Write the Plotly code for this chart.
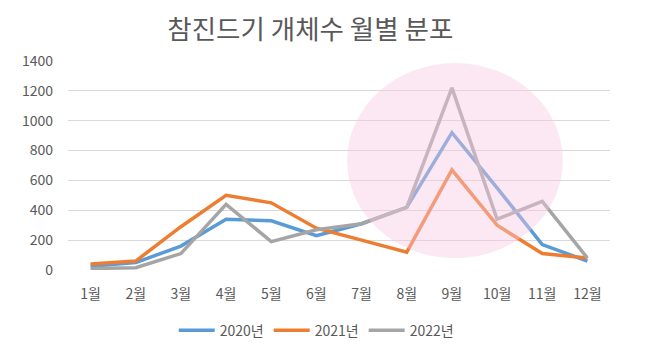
import plotly.graph_objects as go

months = ["1월", "2월", "3월", "4월", "5월", "6월", "7월", "8월", "9월", "10월", "11월", "12월"]
y2020 = [25, 50, 160, 340, 330, 230, 310, 420, 920, 550, 170, 60]
y2021 = [40, 60, 290, 500, 450, 280, 200, 120, 670, 300, 110, 80]
y2022 = [10, 15, 110, 440, 190, 270, 310, 420, 1220, 340, 460, 80]
names = ["2020년", "2021년", "2022년"]
colors = ["#5B9BD5", "#ED7D31", "#A5A5A5"]
yticks = [0, 200, 400, 600, 800, 1000, 1200, 1400]

fig = go.Figure()
for name, vals, c in zip(names, [y2020, y2021, y2022], colors):
    fig.add_trace(go.Scatter(x=months, y=vals, name=name, mode="lines",
                             line=dict(color=c, width=3.5)))

fig.add_shape(type="circle", xref="paper", yref="paper",
              x0=0.515, x1=0.913, y0=0.057, y1=0.99,
              fillcolor="rgba(247,200,225,0.42)", line=dict(width=0),
              layer="above")

fig.update_layout(
    width=646, height=362,
    paper_bgcolor="white", plot_bgcolor="white",
    font=dict(family="Noto Sans CJK KR, Noto Sans", color="#595959", size=13),
    title=dict(text="참진드기 개체수 월별 분포", x=0.468, xanchor="center", y=0.94, yanchor="middle",
               font=dict(size=26.5, color="#595959")),
    margin=dict(l=60, r=44, t=53, b=100),
    showlegend=True,
    legend=dict(orientation="h", x=0.458, xanchor="center", y=-0.29, yanchor="middle",
                font=dict(size=14, color="#595959"), itemwidth=36, tracegroupgap=0),
    xaxis=dict(type="category", range=[-0.5, 11.5], showgrid=False, showline=False,
               ticks="", tickfont=dict(size=14, color="#595959"), ticklabelstandoff=14),
    yaxis=dict(range=[0, 1400], tickvals=yticks, showgrid=True, gridcolor="#D9D9D9",
               gridwidth=1, zeroline=False, showline=False, ticks="",
               tickfont=dict(size=14, color="#595959"), ticklabelstandoff=14),
)

fig.write_html("out.html")
